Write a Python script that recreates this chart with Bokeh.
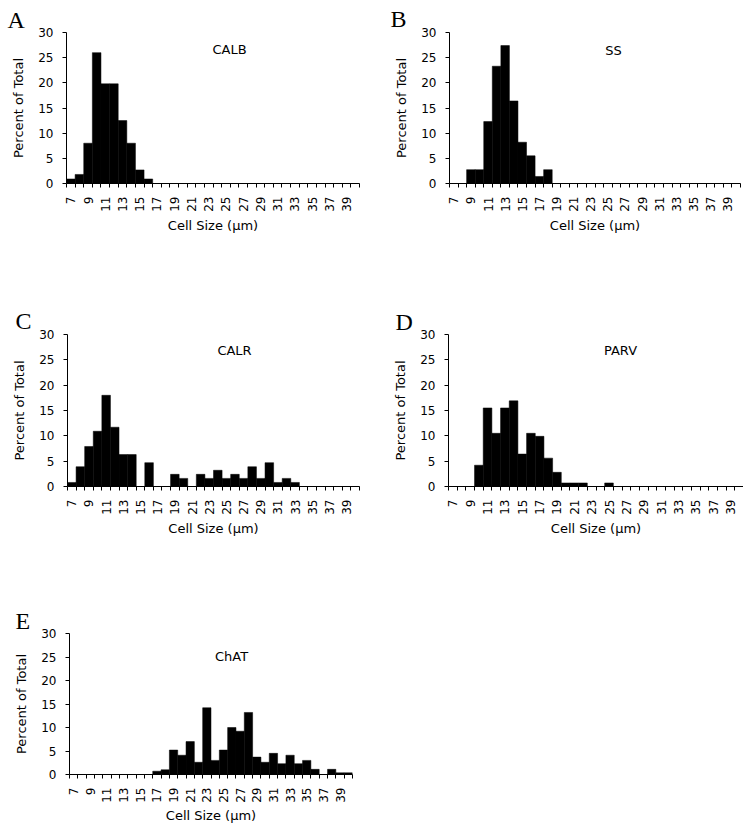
import math
from bokeh.plotting import figure
from bokeh.layouts import column, row
from bokeh.models import Range1d, FixedTicker, Label
from bokeh.embed import file_html
from bokeh.resources import INLINE

# ---------------- data ----------------
cell_sizes = list(range(7, 41))          # bin centres (µm)
y_ticks = [0, 5, 10, 15, 20, 25, 30]
x_tick_labels = cell_sizes[::2]          # 7, 9, ..., 39

calb = [0.9, 1.8, 8.0, 26.0, 19.8, 19.8, 12.5, 8.0, 2.7, 0.9,
        0, 0, 0, 0, 0, 0, 0, 0, 0, 0, 0, 0, 0, 0,
        0, 0, 0, 0, 0, 0, 0, 0, 0, 0]
ss = [0, 0, 2.75, 2.75, 12.3, 23.3, 27.4, 16.4, 8.2, 5.5, 1.4, 2.75,
      0, 0, 0, 0, 0, 0, 0, 0, 0, 0, 0, 0, 0, 0,
      0, 0, 0, 0, 0, 0, 0, 0]
calr = [0.8, 3.9, 7.9, 10.9, 18.0, 11.7, 6.3, 6.3, 0, 4.7, 0, 0,
        2.4, 1.6, 0, 2.4, 1.6, 3.2, 1.6, 2.4, 1.6, 3.9, 1.6, 4.7,
        0.8, 1.6, 0.8, 0, 0, 0, 0, 0, 0, 0]
parv = [0, 0, 0, 4.2, 15.5, 10.5, 15.5, 16.9, 6.4, 10.5, 9.9, 5.6,
        2.8, 0.7, 0.7, 0.7, 0, 0, 0.7, 0, 0, 0, 0, 0,
        0, 0, 0, 0, 0, 0, 0, 0, 0, 0]
chat = [0, 0, 0, 0, 0, 0, 0, 0, 0, 0, 0.7, 1.0,
        5.2, 4.1, 7.0, 2.6, 14.2, 3.0, 5.2, 10.0, 9.2, 13.2, 3.7, 2.6,
        4.5, 2.3, 4.1, 2.3, 3.0, 1.1, 0, 1.1, 0.35, 0.35]

FONT = "DejaVu Sans"
X0, X1 = cell_sizes[0] - 0.5, cell_sizes[-1] + 0.5
Y0, Y1 = y_ticks[0], y_ticks[-1]


def panel(values, name, letter, W, H, bl, bt, fw, fh,
          letter_dx, letter_standoff, name_dx, name_dy, label_gap=3):
    br = W - bl - fw
    bb = H - bt - fh
    p = figure(width=W, height=H, x_range=Range1d(X0, X1), y_range=Range1d(Y0, Y1),
               output_backend="svg", toolbar_location=None,
               min_border_left=bl, min_border_right=br,
               min_border_top=bt, min_border_bottom=bb)
    p.outline_line_color = None
    p.grid.visible = False
    p.background_fill_color = "white"
    p.border_fill_color = "white"

    p.vbar(x=cell_sizes, top=values, width=1.0, fill_color="black",
           line_color="black", line_width=0.5)

    # x axis: ticks at bin edges, labels at odd bin centres
    xa = p.xaxis[0]
    xa.ticker = FixedTicker(ticks=x_tick_labels,
                            minor_ticks=[c - 0.5 for c in cell_sizes] + [cell_sizes[-1] + 0.5])
    xa.major_tick_out = 0
    xa.major_tick_in = 0
    xa.minor_tick_out = 4
    xa.minor_tick_in = 0
    xa.minor_tick_line_color = "black"
    xa.major_label_orientation = math.pi / 2
    xa.major_label_standoff = 9
    xa.axis_label = "Cell Size (µm)"
    xa.axis_label_standoff = label_gap

    ya = p.yaxis[0]
    ya.ticker = FixedTicker(ticks=y_ticks, minor_ticks=[])
    ya.major_tick_out = 4
    ya.major_tick_in = 0
    ya.major_label_standoff = 9
    ya.axis_label = "Percent of Total"
    ya.axis_label_standoff = 9

    for ax in (xa, ya):
        ax.axis_line_color = "black"
        ax.axis_line_width = 1
        ax.major_tick_line_color = "black"
        ax.major_label_text_font = FONT
        ax.major_label_text_font_size = "12px"
        ax.major_label_text_color = "black"
        ax.axis_label_text_font = FONT
        ax.axis_label_text_font_size = "13px"
        ax.axis_label_text_font_style = "normal"
        ax.axis_label_text_color = "black"

    # panel letter as the figure title, pulled left over the y axis
    p.title.text = letter
    p.title.align = "left"
    p.title.offset = letter_dx
    p.title.standoff = letter_standoff
    p.title.text_font = "Liberation Serif"
    p.title.text_font_size = "24px"
    p.title.text_font_style = "normal"
    p.title.text_color = "black"

    sx = (X1 - X0) / fw
    sy = (Y1 - Y0) / fh
    p.add_layout(Label(x=X0 + name_dx * sx, y=Y1 - name_dy * sy, text=name,
                       text_font=FONT, text_font_size="13px", text_color="black",
                       text_align="center", text_baseline="middle"))
    return p


pa = panel(calb, "CALB", "A", 378, 300, 66, 32, 293, 153, -59, 0, 163, 17)
pb = panel(ss, "SS", "B", 365, 300, 71, 30, 291, 153, -59, 2, 164, 18)
pc = panel(calr, "CALR", "C", 378, 300, 67, 34, 292, 152, -52, 2, 167, 16)
pd = panel(parv, "PARV", "D", 365, 300, 70, 32, 295, 154, -53, 0, 172, 16)
pe = panel(chat, "ChAT", "E", 378, 227, 69, 33, 283, 141, -54, 0, 162, 23, label_gap=2)

layout = column(row(pa, pb), row(pc, pd), pe)

open("out.html", "w").write(file_html(layout, INLINE))
